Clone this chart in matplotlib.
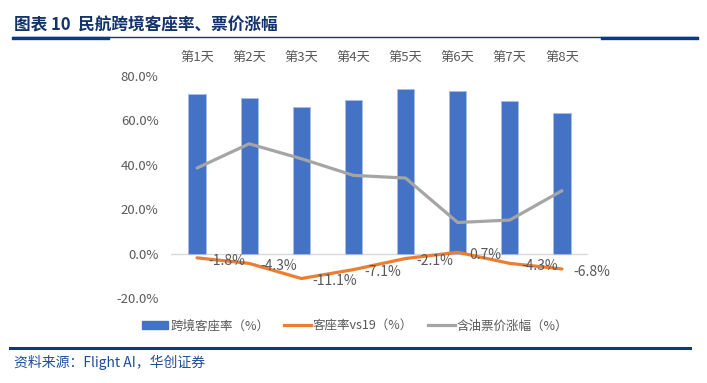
import matplotlib
matplotlib.use("Agg")
import matplotlib.pyplot as plt
from matplotlib.lines import Line2D
import numpy as np

plt.rcParams['font.family'] = ['Noto Sans CJK SC', 'DejaVu Sans']

categories = ["第1天", "第2天", "第3天", "第4天", "第5天", "第6天", "第7天", "第8天"]
load_factor = [72.1, 70.3, 66.1, 69.1, 74.3, 73.4, 68.8, 63.2]
vs19 = [-1.8, -4.3, -11.1, -7.1, -2.1, 0.7, -4.3, -6.8]
fare_change = [38.6, 49.5, 42.8, 35.3, 34.1, 14.1, 15.2, 28.4]
yticks = [-20, 0, 20, 40, 60, 80]

W, H = 707, 383
fig = plt.figure(figsize=(W / 100, H / 100), dpi=100)

def fx(px):
    return px / W

def fy(py):
    return 1 - py / H

ax = fig.add_axes([fx(171), fy(298.3), fx(588) - fx(171), fy(76) - fy(298.3)])
x = np.arange(len(categories))
blue, orange, gray = '#4472C4', '#ED7D31', '#A5A5A5'
txt = '#595959'

ax.bar(x, load_factor, width=0.33, color=blue, edgecolor='#A9BFE6', linewidth=0.6, zorder=2,
       label='跨境客座率（%）')
ax.plot(x, vs19, color=orange, lw=2.3, solid_capstyle='round', solid_joinstyle='round', zorder=3,
        label='客座率vs19（%）')
ax.plot(x, fare_change, color=gray, lw=2.3, solid_capstyle='round', solid_joinstyle='round', zorder=3,
        label='含油票价涨幅（%）')
ax.axhline(0, color='#D9D9D9', lw=1.0, zorder=1)

for xi, v in zip(x, vs19):
    ax.annotate(f"{v:.1f}%", (xi, v), xytext=(8, -2), textcoords='offset points',
                ha='left', va='center', fontsize=10, color=txt, zorder=4)

ax.set_xlim(-0.5, len(categories) - 0.5)
ax.set_ylim(-20, 80)
ax.set_yticks(yticks)
ax.set_yticklabels([f"{t:.1f}%" for t in yticks])
ax.set_xticks(x)
ax.set_xticklabels(categories)
ax.xaxis.tick_top()
ax.tick_params(axis='x', length=0, pad=9, labelsize=9.5, labelcolor=txt)
ax.tick_params(axis='y', length=0, pad=9, labelsize=9.5, labelcolor=txt)
for s in ax.spines.values():
    s.set_visible(False)

handles = [
    plt.Rectangle((0, 0), 1, 1, color=blue),
    Line2D([0], [0], color=orange, lw=2.3),
    Line2D([0], [0], color=gray, lw=2.3),
]
labels = ['跨境客座率（%）', '客座率vs19（%）', '含油票价涨幅（%）']
leg = fig.legend(handles, labels, loc='center', bbox_to_anchor=(fx(355), fy(326)), ncol=3,
                 frameon=False, fontsize=9, handlelength=2.1, handleheight=0.6,
                 columnspacing=1.2, handletextpad=0.2)
for t in leg.get_texts():
    t.set_color(txt)

navy = '#0B3A7E'
fig.text(fx(14), fy(25), "图表 10  民航跨境客座率、票价涨幅", fontsize=12, fontweight='bold',
         color='#14336B', ha='left', va='center')
fig.add_artist(Line2D([fx(13), fx(697)], [fy(37), fy(37)], color=navy, lw=1.0))
fig.add_artist(Line2D([fx(13), fx(108)], [fy(37.5), fy(37.5)], color=navy, lw=2.4))
fig.add_artist(Line2D([fx(602), fx(697)], [fy(37.5), fy(37.5)], color=navy, lw=2.4))
fig.add_artist(Line2D([fx(10), fx(690)], [fy(347.5), fy(347.5)], color=navy, lw=2.2))
fig.text(fx(14), fy(362), "资料来源：Flight AI，华创证券", fontsize=10, style='italic',
         color='#1F4E99', ha='left', va='center')

fig.savefig('out.png', dpi=100)
